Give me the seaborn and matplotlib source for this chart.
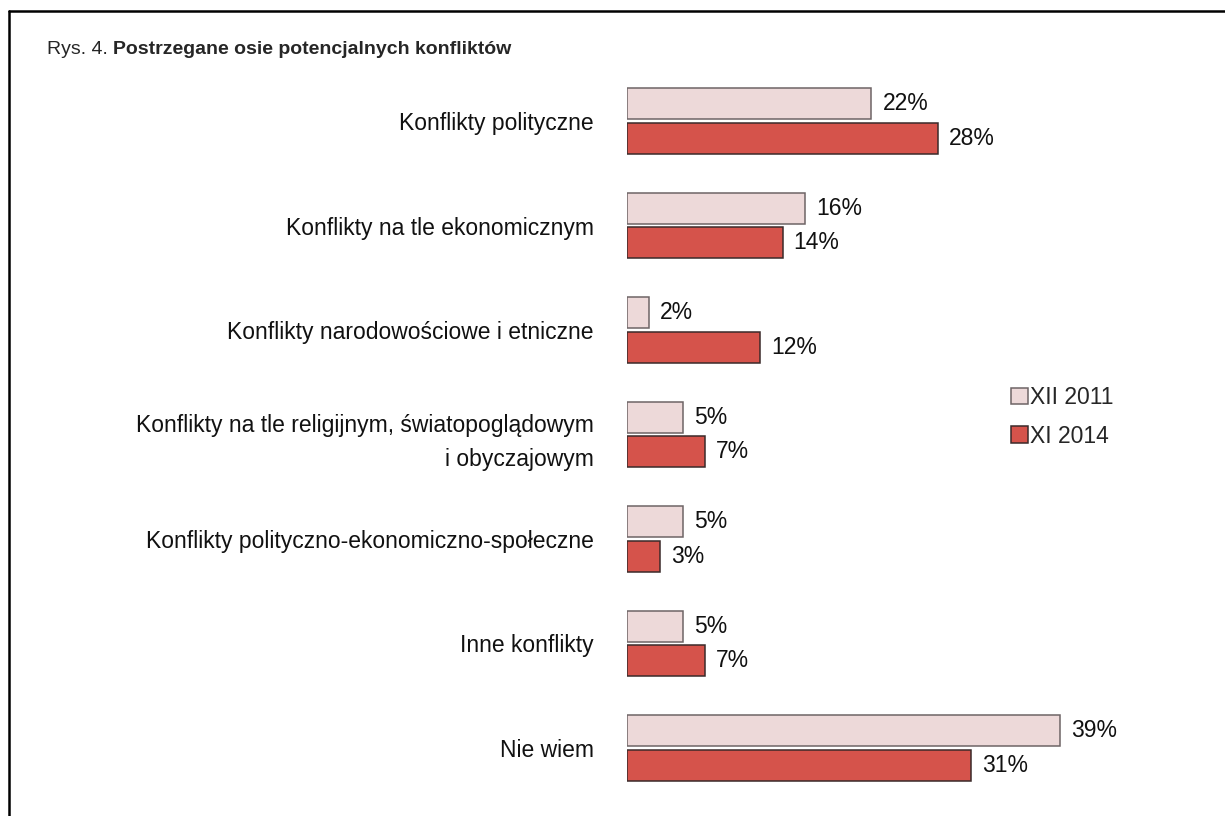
import matplotlib
matplotlib.use("Agg")
import matplotlib.pyplot as plt
import seaborn as sns
import pandas as pd
from matplotlib.lines import Line2D
from matplotlib.patches import Patch

# Data
categories = [
    "Konflikty polityczne",
    "Konflikty na tle ekonomicznym",
    "Konflikty narodowościowe i etniczne",
    "Konflikty na tle religijnym, światopoglądowym\ni obyczajowym",
    "Konflikty polityczno-ekonomiczno-społeczne",
    "Inne konflikty",
    "Nie wiem",
]
periods = ["XII 2011", "XI 2014"]
values_2011 = [22, 16, 2, 5, 5, 5, 39]
values_2014 = [28, 14, 12, 7, 3, 7, 31]

colors = ["#EDD9D9", "#D5534B"]
edges = ["#6E6466", "#3A2A2A"]

data = pd.DataFrame({
    "Kategoria": categories * 2,
    "Okres": [periods[0]] * len(categories) + [periods[1]] * len(categories),
    "Procent": values_2011 + values_2014,
})

sns.set_style("white")
plt.rcParams["font.family"] = ["Liberation Sans", "DejaVu Sans"]
FS = 16.5

fig = plt.figure(figsize=(12.25, 8.16), dpi=100)
ax = fig.add_axes([627 / 1225, 16 / 816, 500 / 1225, 731 / 816])

sns.barplot(data=data, y="Kategoria", x="Procent", hue="Okres", order=categories,
            hue_order=periods, palette=colors, saturation=1, width=0.66, gap=0.1,
            linewidth=1.1, ax=ax, legend=False)

for cont, ec, vals in zip(ax.containers, edges, [values_2011, values_2014]):
    for bar in cont:
        bar.set_edgecolor(ec)
    ax.bar_label(cont, labels=[f"{v}%" for v in vals], padding=8, fontsize=FS, color="#111111")

ax.set_xlim(0, 45)
ax.set_ylim(6.5, -0.5)
ax.set_xlabel("")
ax.set_ylabel("")
ax.set_xticks([])
ax.tick_params(axis="y", length=0, pad=24, labelsize=FS, labelcolor="#111111")
for lbl in ax.get_yticklabels():
    lbl.set_horizontalalignment("right")
    lbl.set_multialignment("right")
    lbl.set_linespacing(1.6)
for s in ax.spines.values():
    s.set_visible(False)

handles = [Patch(facecolor=c, edgecolor=e, linewidth=1.1) for c, e in zip(colors, edges)]
fig.legend(handles, periods, loc="upper left", bbox_to_anchor=(1011 / 1225, 1 - 386 / 816),
           frameon=False, fontsize=FS, handlelength=0.72, handleheight=0.72,
           handletextpad=0.12, labelspacing=0.68, borderaxespad=0, borderpad=0)

# Title: normal prefix + bold part
t1 = fig.text(47 / 1225, 1 - 49 / 816, "Rys. 4. ", fontsize=14, va="center", ha="left")
fig.canvas.draw()
bb = t1.get_window_extent()
fig.text(bb.x1 / fig.bbox.width, 1 - 49 / 816, "Postrzegane osie potencjalnych konfliktów",
         fontsize=14, fontweight="bold", va="center", ha="left")

# Outer frame (top and left lines only visible)
fig.add_artist(Line2D([8.5 / 1225, 1], [1 - 10.5 / 816, 1 - 10.5 / 816], color="black", lw=1.8))
fig.add_artist(Line2D([8.5 / 1225, 8.5 / 1225], [0, 1 - 10.5 / 816], color="black", lw=1.8))

fig.savefig("out.png", dpi=100)
